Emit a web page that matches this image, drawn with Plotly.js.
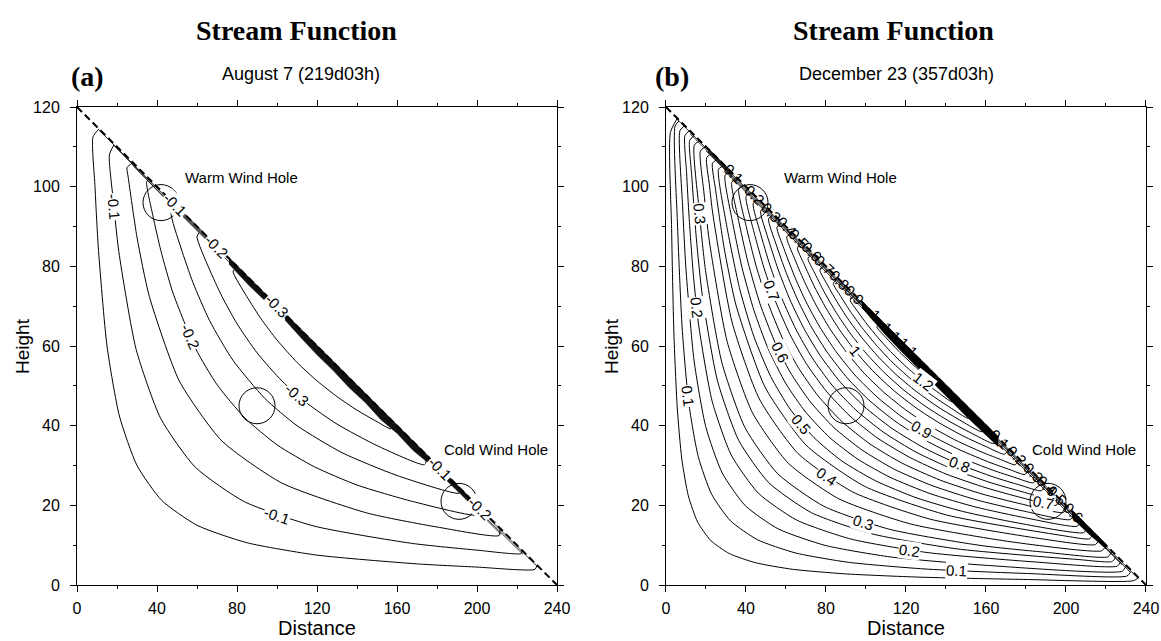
<!DOCTYPE html>
<html><head><meta charset="utf-8">
<script src="https://cdn.plot.ly/plotly-3.0.1.min.js"></script>
<style>html,body{margin:0;padding:0;background:#fff}#chart{width:1161px;height:641px}</style>
</head><body><div id="chart"></div>
<script>
// ---------- slope surface (dashed) ----------
const slopeX = [0, 240];
const slopeY = [120, 0];

// ---------- panel (a) contour lines ----------
const a05x = [11, 8, 9, 10.62, 15, 21.21, 30, 42.42, 60, 84.9, 120, 169.8, 200, 229, 230];
const a05y = [114.5, 112.5, 100, 84.9, 60, 42.42, 30, 21.21, 15, 10.62, 7.5, 5.31, 4.5, 3.93, 5];
const a10x = [18.5, 16.2, 18, 20.92, 29.57, 41.83, 59.15, 83.66, 118.4, 167.3, 200, 222, 222.6];
const a10y = [110.5, 108, 97.2, 83.66, 59.15, 41.83, 29.57, 20.92, 14.81, 10.46, 8.75, 7.88, 8.6];
const a15x = [28, 25, 25.6, 30, 36.19, 51.19, 72.4, 102.4, 144.9, 180, 211, 211.5];
const a15y = [106, 104.8, 102.4, 87.3, 72.4, 51.19, 36.19, 25.6, 18.09, 14.56, 12.42, 14];
const a20x = [36, 34.8, 38, 41.95, 48, 59.33, 70, 83.9, 100, 118.7, 140, 167.9, 201, 201.5];
const a20y = [102, 101.1, 92.6, 83.9, 73.3, 59.33, 50.3, 41.95, 35.2, 29.67, 25.1, 20.96, 17.5, 19];
const a25x = [49.5, 47, 52, 58, 66.33, 78, 93.8, 110, 132.7, 160, 191, 191.5];
const a25y = [95.2, 93.6, 84.6, 75.9, 66.33, 56.4, 46.9, 40, 33.17, 27.5, 23.04, 24.2];
const a30x = [62, 60, 66, 72.46, 80, 90, 102.5, 115, 130, 150, 174, 174.5];
const a30y = [89, 87.5, 79.5, 72.46, 65.6, 58.3, 51.2, 45.65, 40.4, 35, 30.2, 32.5];
const a35x = [80.5, 78, 85, 92, 100, 110, 120, 130, 140, 150, 157, 157.5];
const a35y = [79.5, 78.8, 72.35, 66.85, 61.5, 55.9, 51.25, 47.3, 43.9, 41, 39.2, 41];

// thin lines hugging the slope in (a)
const aThinX = [11, 46, null, 18.5, 46, null, 28, 46, null, 46, 230, null, 46, 212, null, 203, 223];
const aThinY = [114.2, 96.7, null, 110.3, 96.2, null, 105.3, 96.0, null, 96.7, 4.7, null, 96.2, 12.7, null, 17.6, 7.7];
// dark bands along the slope in (a)
const aBand1X = [53, 66, 66, 53];
const aBand1Y = [93.7, 87.2, 85.9, 92.4];
const aBand2X = [76, 95, 95, 86, 76];
const aBand2Y = [82.2, 72.7, 70.9, 75.2, 80.6];
const aBand3X = [104, 176, 176, 168, 160, 152, 144, 136, 128, 120, 112, 104];
const aBand3Y = [68.2, 32.2, 30.5, 33.8, 38.1, 41.5, 45.9, 49.6, 53.9, 57.8, 62.1, 66.5];
const aBand4X = [184, 196, 196, 184];
const aBand4Y = [28.2, 22.2, 20.9, 26.7];

// contour labels (a)
const aLabText = ['-0.1', '-0.2', '-0.3', '-0.1'];
const aLabX = [18.4, 56.5, 109.8, 99.8];
const aLabY = [95, 62.3, 47.8, 17.5];
const aSlopeLabText = ['-0.1', '-0.2', '-0.3', '-0.1', '-0.2'];
const aSlopeLabX = [49, 69.8, 99.8, 181.5, 201.5];
const aSlopeLabY = [95.5, 85.1, 70.1, 29.25, 19.25];

// ---------- panel (b) contour lines ----------
const b05x = [5.5, 2.2, 2.8, 3.95, 5.6, 7.9, 11.18, 15.81, 22.36, 31.62, 44.7, 63.2, 89.5, 126.5, 178.8, 233.7, 236.5];
const b05y = [117, 113.6, 89.5, 63.2, 44.7, 31.62, 22.36, 15.81, 11.18, 7.9, 5.6, 3.95, 2.8, 1.976, 1.398, 1.07, 1.9];
const b10x = [6.5, 4.51, 5.7, 8.07, 11.4, 16.12, 22.8, 32.24, 45.6, 64.52, 91.2, 129, 182.4, 230.5, 232.5];
const b10y = [116.5, 115.2, 91.2, 64.52, 45.6, 32.24, 22.8, 16.12, 11.4, 8.07, 5.7, 4.036, 2.85, 2.25, 3.4];
const b15x = [9, 6.93, 8.3, 9.95, 14.06, 19.87, 28.11, 39.75, 56.22, 79.55, 112.4, 159.1, 228.1, 230];
const b15y = [115.2, 114, 95.2, 79.55, 56.22, 39.75, 28.11, 19.87, 14.06, 9.95, 7.03, 4.975, 3.45, 4.7];
const b20x = [11.5, 9.44, 10.3, 11.55, 13.7, 16.32, 23.07, 32.63, 46.14, 65.26, 92.34, 130.5, 184.7, 225.56, 227.5];
const b20y = [114, 112.8, 103.4, 92.34, 77.7, 65.26, 46.14, 32.63, 23.07, 16.32, 11.55, 8.158, 5.776, 4.72, 5.9];
const b25x = [14, 11.83, 12.86, 15.2, 18.17, 25.69, 36.33, 51.37, 72.66, 102.8, 145.3, 205.6, 223.17, 225];
const b25y = [112.8, 111.6, 102.8, 86.84, 72.66, 51.37, 36.33, 25.69, 18.17, 12.86, 9.08, 6.42, 5.91, 7.2];
const b30x = [16.5, 14.13, 16.5, 19.75, 27.93, 39.5, 55.85, 79, 111.8, 158, 190, 220.87, 222.8];
const b30y = [111.5, 110.4, 94.5, 79, 55.85, 39.5, 27.93, 19.75, 13.98, 9.875, 8.21, 7.06, 8.3];
const b35x = [19.5, 17.17, 19, 21.62, 30.57, 43.24, 61.14, 86.48, 122.4, 173, 217.83, 219.8];
const b35y = [110, 108.9, 98.4, 86.48, 61.14, 43.24, 30.57, 21.62, 15.31, 10.81, 8.58, 9.7];
const b40x = [22.7, 20.31, 21.7, 23.35, 33.01, 46.69, 66.02, 93.38, 132.1, 186.8, 214.69, 216.6];
const b40y = [108.3, 107.3, 100.5, 93.38, 66.02, 46.69, 33.01, 23.35, 16.53, 11.67, 10.15, 11.4];
const b45x = [25.6, 23.23, 24.8, 29, 35.07, 49.6, 70.13, 99.2, 140.4, 198.4, 211.77, 213.7];
const b45y = [106.8, 105.9, 99.2, 84.8, 70.13, 49.6, 35.07, 24.8, 17.56, 12.4, 11.6, 12.9];
const b50x = [28.5, 26.25, 30.5, 37.01, 44, 52.35, 62, 74.02, 88, 104.7, 125, 148.2, 175, 208.75, 210.7];
const b50y = [105.2, 104.4, 89.8, 74.02, 62.3, 52.35, 44.2, 37.01, 31.1, 26.18, 21.92, 18.49, 15.66, 13.13, 14.3];
const b55x = [31.8, 29.49, 33, 38, 44, 51, 60, 70, 82, 96, 112, 132, 155, 180, 205.51, 207.5];
const b55y = [103.8, 102.75, 91.8, 79.7, 68.9, 59.4, 50.5, 43.3, 36.95, 31.56, 27.05, 22.95, 19.55, 16.83, 14.74, 15.9];
const b60x = [35, 32.85, 36, 41, 47, 54, 62, 72, 84, 98, 114, 133, 155, 178, 202.15, 204];
const b60y = [102.2, 101.07, 92.2, 81, 70.6, 61.5, 53.5, 46.1, 39.5, 33.9, 29.1, 24.96, 21.4, 18.65, 16.42, 17.7];
const b65x = [38.5, 36.35, 40, 45, 51, 58, 66, 76, 88, 102, 118, 137, 158, 178, 198.65, 200.5];
const b65y = [100.5, 99.3, 90.25, 80.2, 70.8, 62.2, 54.7, 47.5, 41, 35.4, 30.6, 26.35, 22.85, 20.3, 18.2, 19.5];
const b70x = [42.2, 40, 44, 49, 55, 62, 70, 80, 92, 106, 122, 140, 160, 178, 195, 197];
const b70y = [98.6, 97.5, 88.6, 79.6, 70.9, 62.9, 55.7, 48.75, 42.4, 36.8, 32, 27.86, 24.4, 21.9, 20, 21.3];
const b75x = [45.8, 43.57, 47, 52, 58, 65, 73, 83, 95, 109, 125, 143, 162, 178, 191.43, 193.4];
const b75y = [96.9, 95.7, 88.7, 80.2, 71.9, 64.15, 57.1, 50.2, 43.9, 38.26, 33.36, 29.16, 25.74, 23.43, 21.8, 23.1];
const b80x = [49.5, 47.31, 51, 56, 62, 69, 77, 87, 99, 113, 129, 146, 164, 177, 187.69, 189.6];
const b80y = [95, 93.85, 87.06, 79.3, 71.6, 64.35, 57.66, 51.03, 44.85, 39.3, 34.42, 30.41, 27.07, 25.08, 23.66, 25];
const b85x = [53.5, 51.27, 55, 60, 66, 73, 81, 91, 102, 115, 130, 146, 163, 175, 183.73, 185.6];
const b85y = [93, 91.87, 85.6, 78.5, 71.4, 64.5, 58.15, 51.76, 46.18, 40.96, 36.23, 32.26, 28.9, 26.9, 25.64, 27];
const b90x = [57.7, 55.48, 59, 64, 70, 77, 85, 95, 106, 118, 132, 147, 162, 172, 179.52, 181.4];
const b90y = [90.9, 89.76, 84.4, 77.8, 71.1, 64.7, 58.6, 52.4, 47, 42.2, 37.7, 33.9, 30.74, 28.95, 27.74, 29.1];
const b95x = [62.5, 60.35, 64, 69, 75, 82, 90, 99, 109, 120, 132, 145, 158, 168, 174.65, 176.5];
const b95y = [88.5, 87.33, 82.3, 76.4, 70.3, 64.3, 58.6, 53.2, 48.35, 43.9, 39.9, 36.3, 33.35, 31.37, 30.17, 31.5];
const b100x = [67.8, 65.67, 69, 74, 80, 87, 95, 104, 114, 125, 137, 149, 160, 169.33, 171.2];
const b100y = [85.8, 84.66, 80.6, 75.1, 69.5, 63.9, 58.5, 53.46, 48.77, 44.48, 40.58, 37.3, 34.75, 32.83, 34.2];
const b105x = [73, 70.96, 74, 79, 85, 92, 100, 109, 119, 130, 142, 154, 164.04, 166];
const b105y = [83.2, 82.0, 78.65, 73.67, 68.47, 63.26, 58.2, 53.4, 48.9, 44.77, 40.99, 37.79, 35.48, 36.7];
const b110x = [79, 76.93, 80, 85, 91, 98, 106, 115, 125, 136, 148, 158.07, 160];
const b110y = [80.2, 79.03, 76, 71.53, 66.8, 62.04, 57.36, 52.87, 48.64, 44.7, 41.08, 38.46, 39.7];
const b115x = [85.7, 83.65, 87, 92, 98, 105, 113, 122, 132, 142, 151.35, 153.3];
const b115y = [76.9, 75.67, 72.76, 68.8, 64.6, 60.3, 56.0, 51.9, 47.95, 44.58, 41.82, 43.1];
const b120x = [94, 92.08, 95, 100, 106, 113, 120, 128, 136, 142.92, 144.8];
const b120y = [72.7, 71.46, 69.26, 65.8, 62.08, 58.23, 54.83, 51.4, 48.38, 46.04, 47.3];
const b125x = [107, 105.42, 110, 117, 124, 129.58, 131.3];
const b125y = [65.7, 64.79, 62.09, 58.38, 55.08, 52.71, 53.6];

// thin lines hugging the slope in (b)
const bThinX = [5, 236, null, 12, 232, null, 20, 228, null, 30, 100, null, 165, 205];
const bThinY = [117.2, 1.7, null, 113.3, 3.3, null, 109.0, 5.1, null, 103.6, 68.6, null, 36.1, 16.1];
// dark bands along the slope in (b)
const bBand1X = [98, 166, 166, 158, 150, 142, 134, 126, 118, 110, 98];
const bBand1Y = [71.3, 37.3, 34.8, 38.6, 42.4, 46.5, 50.4, 54.5, 58.5, 62.7, 69.6];
const bBand2X = [203, 220, 220, 211, 203];
const bBand2Y = [18.8, 10.3, 9.1, 13.0, 16.9];
const bBand3X = [21, 33, 33, 21];
const bBand3Y = [109.7, 103.7, 102.4, 108.7];

// contour labels (b)
const bLabText = ['0.1', '0.1', '0.2', '0.2', '0.3', '0.3', '0.4', '0.5', '0.6', '0.7', '0.7', '0.8', '0.9', '1', '1.2'];
const bLabX = [11, 145.3, 15.3, 122, 16.74, 98.7, 80.3, 67.8, 57, 52.8, 188.7, 147, 127.8, 94.5, 128.7];
const bLabY = [47.3, 3.58, 69.6, 8.73, 93.2, 15.8, 27.15, 40.4, 58.25, 73.9, 20.67, 30.2, 38.97, 58.8, 51.1];
const bSlopeLabText = ['0.1', '0.2', '0.3', '0.4', '0.5', '0.6', '0.7', '0.8', '0.9', '1', '1.1', '1.1', '0.1', '0.2', '0.3', '0.4', '0.5', '0.6'];
const bSlopeLabX = [33.7, 44.5, 52.8, 60.3, 66.2, 72.8, 79.5, 87, 94.5, 104.5, 113, 121, 167, 175.3, 183.7, 190.3, 195.3, 203.7];
const bSlopeLabY = [103.2, 97.8, 93.6, 89.9, 86.9, 83.6, 80.3, 76.5, 72.8, 67.8, 63.5, 59.5, 36.5, 32.4, 28.2, 24.9, 22.4, 18.2];

// wind holes (same positions in both panels)
const holeX = [42, 90, 191];
const holeY = [96, 45, 21];
const holeText = ['Warm Wind Hole', 'Cold Wind Hole'];
const holeTextXa = [53.2, 182.3];
const holeTextXb = [57.8, 182.0];
const holeTextY = [102.2, 34];

// tick labels
const xTicks = [0, 40, 80, 120, 160, 200, 240];
const yTicks = [0, 20, 40, 60, 80, 100, 120];

// ---------- build ----------
const SANS = 'Liberation Sans, Arial, Helvetica, sans-serif';
const SERIF = 'Liberation Serif, Times New Roman, serif';
const traces = [];
function addLine(x, y, xa, ya, extra) {
  traces.push(Object.assign({type: 'scatter', mode: 'lines', x: x, y: y, xaxis: xa, yaxis: ya,
    line: {color: '#000', width: 1, shape: 'spline', smoothing: 0.6},
    hoverinfo: 'skip', showlegend: false}, extra || {}));
}
function addBand(x, y, xa, ya, col) {
  traces.push({type: 'scatter', mode: 'lines', x: x, y: y, xaxis: xa, yaxis: ya, fill: 'toself',
    fillcolor: col, line: {color: col, width: 0.6}, hoverinfo: 'skip', showlegend: false});
}
[[a05x,a05y],[a10x,a10y],[a15x,a15y],[a20x,a20y],[a25x,a25y],[a30x,a30y],[a35x,a35y]]
  .forEach(p => addLine(p[0], p[1], 'x', 'y'));
addLine(aThinX, aThinY, 'x', 'y', {line: {color: '#000', width: 0.8}});
addBand(aBand1X, aBand1Y, 'x', 'y', '#555');
addBand(aBand2X, aBand2Y, 'x', 'y', '#111');
addBand(aBand3X, aBand3Y, 'x', 'y', '#111');
addBand(aBand4X, aBand4Y, 'x', 'y', '#111');

[[b05x,b05y],[b10x,b10y],[b15x,b15y],[b20x,b20y],[b25x,b25y],[b30x,b30y],[b35x,b35y],[b40x,b40y],
 [b45x,b45y],[b50x,b50y],[b55x,b55y],[b60x,b60y],[b65x,b65y],[b70x,b70y],[b75x,b75y],[b80x,b80y],
 [b85x,b85y],[b90x,b90y],[b95x,b95y],[b100x,b100y],[b105x,b105y],[b110x,b110y],[b115x,b115y],
 [b120x,b120y],[b125x,b125y]].forEach(p => addLine(p[0], p[1], 'x2', 'y2'));
addLine(bThinX, bThinY, 'x2', 'y2', {line: {color: '#000', width: 0.8}});
addBand(bBand1X, bBand1Y, 'x2', 'y2', '#000');
addBand(bBand2X, bBand2Y, 'x2', 'y2', '#000');
addBand(bBand3X, bBand3Y, 'x2', 'y2', '#222');

// dashed slope
addLine(slopeX, slopeY, 'x', 'y', {line: {color: '#000', width: 2, dash: '7px,4px'}});
addLine(slopeX, slopeY, 'x2', 'y2', {line: {color: '#000', width: 2, dash: '7px,4px'}});

// label angles (style)
const aLabAngle = [85, 66, 41, 19];
const bLabAngle = [83, 3, 84, 8, 85, 18, 34, 50, 64, 70, 12, 22, 31, 51, 38];

const ann = [];
function lab(t, x, y, xr, yr, ang, bg) {
  ann.push({text: t, x: x, y: y, xref: xr, yref: yr, xanchor: 'center', yanchor: 'middle', showarrow: false, textangle: ang,
    font: {family: SANS, size: 15, color: '#000'}, bgcolor: bg ? '#fff' : 'rgba(0,0,0,0)', borderpad: 0});
}
aLabText.forEach((t, i) => lab(t, aLabX[i], aLabY[i], 'x', 'y', aLabAngle[i], true));
aSlopeLabText.forEach((t, i) => lab(t, aSlopeLabX[i], aSlopeLabY[i], 'x', 'y', 45, true));
bLabText.forEach((t, i) => lab(t, bLabX[i], bLabY[i], 'x2', 'y2', bLabAngle[i], true));
bSlopeLabText.forEach((t, i) => lab(t, bSlopeLabX[i], bSlopeLabY[i], 'x2', 'y2', 45, false));

// hole names
[['x','y',holeTextXa],['x2','y2',holeTextXb]].forEach(p => {
  holeText.forEach((t, i) => ann.push({text: t, x: p[2][i], y: holeTextY[i], xref: p[0], yref: p[1],
    xanchor: 'left', yanchor: 'middle', showarrow: false, font: {family: SANS, size: 15, color: '#000'}}));
});

// titles (placed in pixels of the 1161x641 page)
const PW = 1069, PH = 478;
function px(v) { return (v - 77) / PW; }
function py(v) { return (585 - v) / PH; }
function pageText(t, x, y, fam, size, ang) {
  ann.push({text: t, x: px(x), y: py(y), xref: 'paper', yref: 'paper', xanchor: 'center', yanchor: 'middle',
    showarrow: false, textangle: ang || 0, font: {family: fam, size: size, color: '#000'}});
}
pageText('<b>Stream Function</b>', 296, 31, SERIF, 28);
pageText('<b>Stream Function</b>', 893, 31, SERIF, 28);
pageText('<b>(a)</b>', 87, 76, SERIF, 28);
pageText('<b>(b)</b>', 672, 76, SERIF, 28);
pageText('August 7 (219d03h)', 301, 74, SANS, 18);
pageText('December 23 (357d03h)', 896, 74, SANS, 18);
pageText('Height', 22, 346, SANS, 19, -90);
pageText('Height', 611, 346, SANS, 19, -90);

// circles
const shapes = [];
[['x','y'],['x2','y2']].forEach(r => holeX.forEach((cx, i) => shapes.push({type: 'circle', xref: r[0], yref: r[1],
  xsizemode: 'pixel', ysizemode: 'pixel', xanchor: cx, yanchor: holeY[i], x0: -18, x1: 18, y0: -18, y1: 18,
  line: {color: '#000', width: 1}, layer: 'above'})));

function xAxis(dom, anchor) {
  return {domain: dom, anchor: anchor, range: [0, 240], tickmode: 'array', tickvals: xTicks, ticktext: xTicks.map(String),
    ticks: 'outside', ticklen: 6, tickwidth: 1, tickcolor: '#000', showline: true, linecolor: '#000', linewidth: 1,
    mirror: 'ticks', showgrid: false, zeroline: false, ticklabelstandoff: 3,
    minor: {tickmode: 'linear', tick0: 0, dtick: 20, ticks: 'outside', ticklen: 3, tickcolor: '#000', showgrid: false},
    tickfont: {family: SANS, size: 16, color: '#000'},
    title: {text: 'Distance', font: {family: SANS, size: 20, color: '#000'}, standoff: 2}};
}
function yAxis(anchor) {
  return {domain: [0, 1], anchor: anchor, range: [0, 120], tickmode: 'array', tickvals: yTicks, ticktext: yTicks.map(String),
    ticks: 'outside', ticklen: 6, tickwidth: 1, tickcolor: '#000', showline: true, linecolor: '#000', linewidth: 1,
    mirror: 'ticks', showgrid: false, zeroline: false, ticklabelstandoff: 7,
    minor: {tickmode: 'linear', tick0: 0, dtick: 10, ticks: 'outside', ticklen: 3, tickcolor: '#000', showgrid: false},
    tickfont: {family: SANS, size: 16, color: '#000'}};
}

const layout = {
  width: 1161, height: 641, paper_bgcolor: '#fff', plot_bgcolor: '#fff',
  margin: {l: 77, r: 15, t: 107, b: 56}, showlegend: false,
  xaxis: xAxis([0, 0.44902], 'y'), yaxis: yAxis('x'),
  xaxis2: xAxis([0.55098, 1], 'y2'), yaxis2: yAxis('x2'),
  annotations: ann, shapes: shapes
};
Plotly.newPlot('chart', traces, layout, {displayModeBar: false, staticPlot: true});
</script></body></html>
